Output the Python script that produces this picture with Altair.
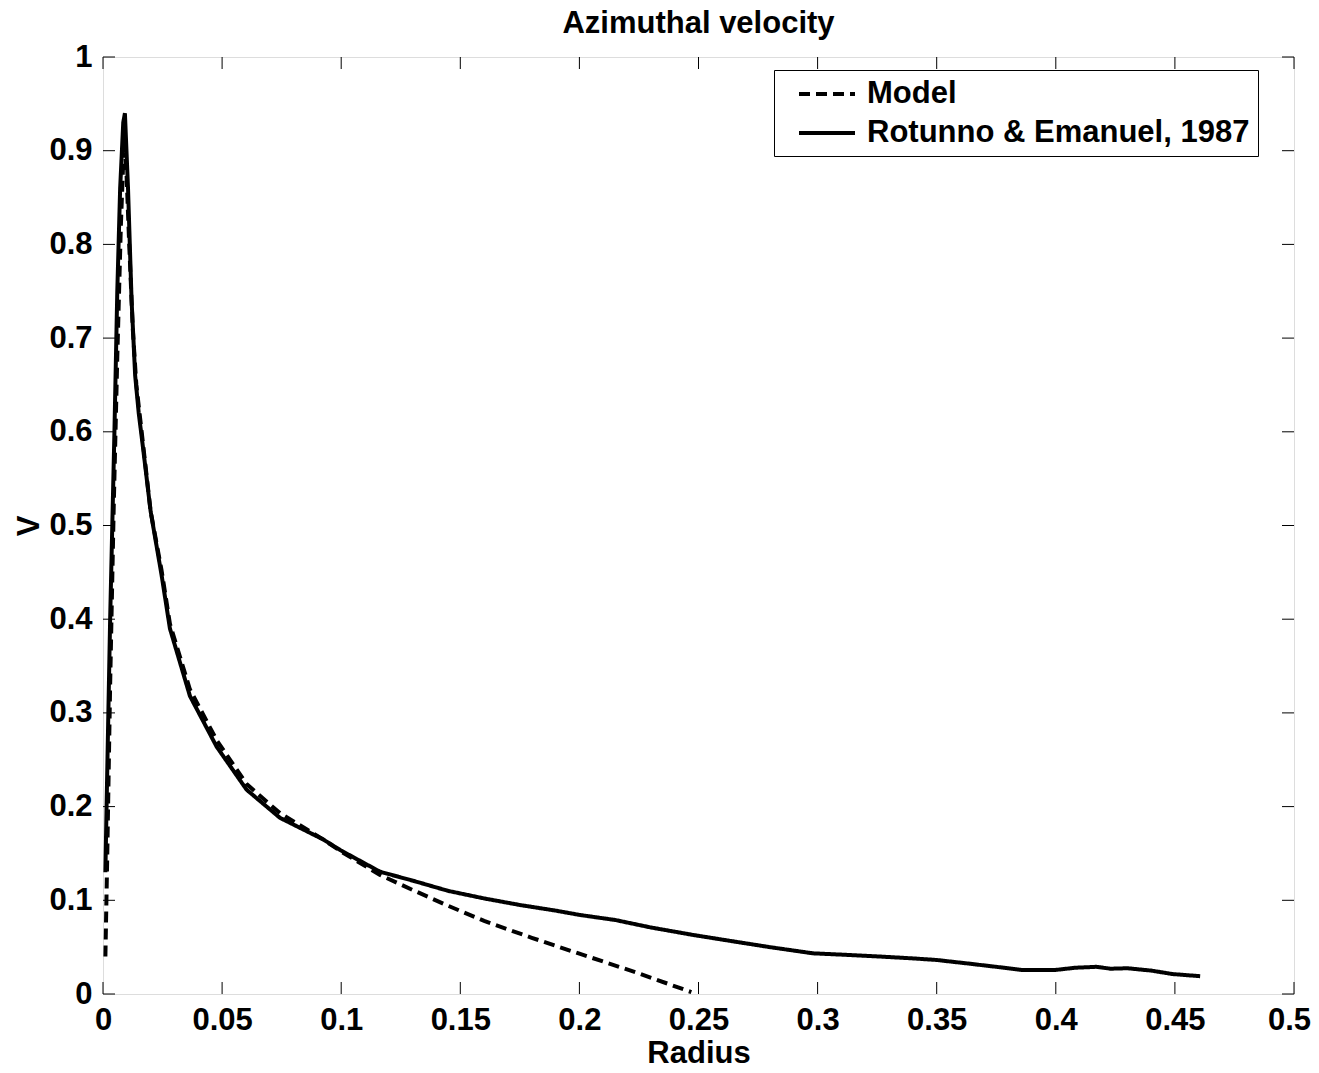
import altair as alt
import pandas as pd

# ---- data ----
re_radius = [0.001, 0.0015, 0.003, 0.0048, 0.006, 0.0072, 0.0085, 0.0092, 0.0105, 0.012,
             0.0135, 0.015, 0.0169, 0.020, 0.0246, 0.0281, 0.0365, 0.0477, 0.0603, 0.0743,
             0.0924, 0.100, 0.1163, 0.130, 0.145, 0.160, 0.175, 0.190, 0.2003, 0.215,
             0.230, 0.2478, 0.265, 0.280, 0.298, 0.3136, 0.326, 0.340, 0.350, 0.365,
             0.375, 0.386, 0.3997, 0.408, 0.417, 0.423, 0.430, 0.440, 0.449, 0.4606]
re_v = [0.13, 0.20, 0.40, 0.60, 0.75, 0.86, 0.93, 0.94, 0.86, 0.74,
        0.66, 0.62, 0.581, 0.515, 0.447, 0.390, 0.318, 0.264, 0.218, 0.188,
        0.165, 0.153, 0.1305, 0.121, 0.110, 0.102, 0.095, 0.089, 0.0843, 0.079,
        0.071, 0.063, 0.056, 0.050, 0.0434, 0.0416, 0.040, 0.038, 0.0363, 0.032,
        0.029, 0.0256, 0.0256, 0.028, 0.029, 0.027, 0.0275, 0.025, 0.0213, 0.019]

model_radius = [0.001, 0.0018, 0.003, 0.0045, 0.006, 0.0075, 0.0088, 0.0098, 0.011, 0.0125,
                0.014, 0.0169, 0.020, 0.0246, 0.0281, 0.0365, 0.0477, 0.0603, 0.0743, 0.0924,
                0.100, 0.1163, 0.130, 0.145, 0.160, 0.180, 0.200, 0.225, 0.247]
model_v = [0.04, 0.15, 0.33, 0.52, 0.68, 0.82, 0.91, 0.88, 0.80, 0.71,
           0.65, 0.585, 0.515, 0.452, 0.395, 0.325, 0.271, 0.224, 0.193, 0.165,
           0.152, 0.127, 0.111, 0.094, 0.078, 0.060, 0.043, 0.022, 0.002]

series_names = ["Model", "Rotunno & Emanuel, 1987"]
x_ticks = [0, 0.05, 0.1, 0.15, 0.2, 0.25, 0.3, 0.35, 0.4, 0.45, 0.5]
y_ticks = [0, 0.1, 0.2, 0.3, 0.4, 0.5, 0.6, 0.7, 0.8, 0.9, 1]

W, H = 1191, 937
FONT = "Liberation Sans"
FS = 31
TICK = 12

df = pd.concat([
    pd.DataFrame({"Radius": model_radius, "V": model_v, "series": series_names[0], "order": range(len(model_radius))}),
    pd.DataFrame({"Radius": re_radius, "V": re_v, "series": series_names[1], "order": range(len(re_radius))}),
])

xscale = alt.Scale(domain=[0, 0.5], nice=False, zero=False)
yscale = alt.Scale(domain=[0, 1], nice=False, zero=False)

xaxis = alt.Axis(values=x_ticks, labelExpr="format(datum.value, '~g')", title="Radius",
                 grid=False, domain=False, ticks=False, labelPadding=11, titlePadding=3,
                 labelOffset={"condition": {"test": "datum.value >= 0.5", "value": -5}, "value": 0},
                 labelFont=FONT, labelFontSize=FS, labelFontWeight="bold", labelColor="black",
                 titleFont=FONT, titleFontSize=FS, titleFontWeight="bold", titleColor="black",
                 labelFlush=False, labelOverlap=False)
yaxis = alt.Axis(values=y_ticks, labelExpr="format(datum.value, '~g')", title="V",
                 grid=False, domain=False, ticks=False, labelPadding=11, titlePadding=3,
                 labelFont=FONT, labelFontSize=FS, labelFontWeight="bold", labelColor="black",
                 titleFont=FONT, titleFontSize=FS, titleFontWeight="bold", titleColor="black",
                 labelFlush=False, labelOverlap=False)

lines = alt.Chart(df).mark_line(color="black", strokeWidth=4, strokeCap="butt", strokeJoin="miter").encode(
    x=alt.X("Radius:Q", scale=xscale, axis=xaxis),
    y=alt.Y("V:Q", scale=yscale, axis=yaxis),
    strokeDash=alt.StrokeDash("series:N",
                              scale=alt.Scale(domain=series_names, range=[[11, 6], [1, 0]]),
                              legend=alt.Legend(title=None, orient="none", legendX=671, legendY=13,
                                                symbolType="M-2,0L2,0", symbolSize=784, symbolStrokeWidth=4,
                                                symbolStrokeColor="black", symbolFillColor="transparent",
                                                labelFont=FONT, labelFontSize=FS, labelFontWeight="bold",
                                                labelColor="black", labelOffset=24, rowPadding=8,
                                                padding=8, fillColor="white", strokeColor="black",
                                                cornerRadius=0, symbolOffset=29, labelLimit=600)),
    detail="series:N",
    order="order:Q",
)

xt = pd.DataFrame({"Radius": x_ticks})
yt = pd.DataFrame({"V": y_ticks})

bottom_ticks = alt.Chart(xt).mark_rule(color="black", strokeWidth=1).encode(
    x=alt.X("Radius:Q", scale=xscale, axis=xaxis), y=alt.value(H), y2=alt.value(H - TICK))
top_ticks = alt.Chart(xt).mark_rule(color="black", strokeWidth=1).encode(
    x=alt.X("Radius:Q", scale=xscale, axis=xaxis), y=alt.value(0), y2=alt.value(TICK))
left_ticks = alt.Chart(yt).mark_rule(color="black", strokeWidth=1).encode(
    y=alt.Y("V:Q", scale=yscale, axis=yaxis), x=alt.value(0), x2=alt.value(TICK))
right_ticks = alt.Chart(yt).mark_rule(color="black", strokeWidth=1).encode(
    y=alt.Y("V:Q", scale=yscale, axis=yaxis), x=alt.value(W), x2=alt.value(W - TICK))

chart = alt.layer(lines, bottom_ticks, top_ticks, left_ticks, right_ticks).properties(
    width=W, height=H,
    title=alt.TitleParams("Azimuthal velocity", font=FONT, fontSize=FS, fontWeight="bold",
                          color="black", anchor="middle", offset=1),
    autosize=alt.AutoSizeParams(type="none"),
    padding={"left": 95, "top": 49, "right": 17, "bottom": 70},
).configure_view(stroke="black", strokeWidth=1.5).configure(background="white")

chart.save("out.html", embed_options={"renderer": "svg", "actions": False})
